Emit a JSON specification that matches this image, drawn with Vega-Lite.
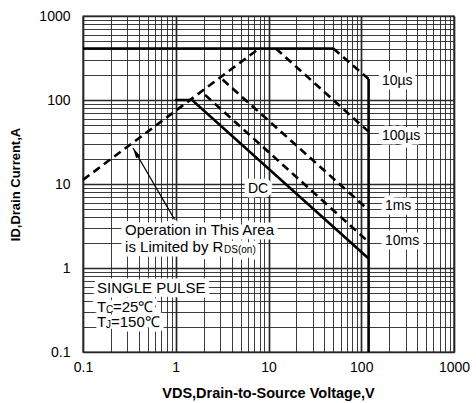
{
  "$schema": "https://vega.github.io/schema/vega-lite/v6.json",
  "autosize": {"type": "none"},
  "padding": {"left": 83, "top": 16, "right": 22, "bottom": 51},
  "width": 371,
  "height": 336,
  "background": "white",
  "config": {
    "view": {"stroke": "#222", "strokeWidth": 1.4},
    "font": "Liberation Sans",
    "text": {"font": "Liberation Sans", "color": "#000"}
  },
  "datasets": {
    "lines": [
      {"s": "top", "v": 0.1, "i": 410},
      {"s": "top", "v": 50, "i": 410},
      {"s": "t10us", "v": 50, "i": 410},
      {"s": "t10us", "v": 120, "i": 178},
      {"s": "vmax", "v": 120, "i": 178},
      {"s": "vmax", "v": 120, "i": 0.1},
      {"s": "rds", "v": 0.1, "i": 11.2},
      {"s": "rds", "v": 7.9, "i": 410},
      {"s": "t100us", "v": 12, "i": 410},
      {"s": "t100us", "v": 120, "i": 42},
      {"s": "t1ms", "v": 3.2, "i": 175},
      {"s": "t1ms", "v": 120, "i": 4.9},
      {"s": "t10ms", "v": 2.07, "i": 115},
      {"s": "t10ms", "v": 120, "i": 2.04},
      {"s": "dc", "v": 0.98, "i": 100},
      {"s": "dc", "v": 1.5, "i": 100},
      {"s": "dc", "v": 120, "i": 1.3}
    ],
    "arrow": [
      {"part": "tail", "v": 0.98, "i": 3.72},
      {"part": "tip", "v": 0.346, "i": 26.8}
    ],
    "texts": [
      {"t": "10µs", "v": 167, "i": 168},
      {"t": "100µs", "v": 167, "i": 37.3},
      {"t": "1ms", "v": 180, "i": 5.5},
      {"t": "10ms", "v": 180, "i": 2.09},
      {"t": "DC", "v": 6.0, "i": 8.7},
      {"t": "Operation in This Area", "v": 0.284, "i": 2.83},
      {"t": "is Limited by R", "v": 0.284, "i": 1.78},
      {"t": "DS(on)", "v": 0.284, "i": 1.78},
      {"t": "SINGLE PULSE", "v": 0.1416, "i": 0.578},
      {"t": "T", "v": 0.1416, "i": 0.343},
      {"t": "C", "v": 0.1416, "i": 0.343},
      {"t": "=25℃", "v": 0.1416, "i": 0.343},
      {"t": "T", "v": 0.1416, "i": 0.227},
      {"t": "J", "v": 0.1416, "i": 0.227},
      {"t": "=150℃", "v": 0.1416, "i": 0.227}
    ]
  },
  "encoding": {
    "x": {
      "field": "v", "type": "quantitative",
      "scale": {"type": "log", "domain": [0.1, 1000], "nice": false},
      "axis": {
        "values": [0.1,0.2,0.3,0.4,0.5,0.6,0.7,0.8,0.9,1,2,3,4,5,6,7,8,9,10,20,30,40,50,60,70,80,90,100,200,300,400,500,600,700,800,900,1000],
        "grid": true, "ticks": false, "domain": false,
        "format": "~g",
        "labelExpr": "indexof([0.1,1,10,100,1000], datum.value) >= 0 ? datum.label : ''",
        "labelOverlap": false, "labelFontSize": 14, "labelFont": "Liberation Sans", "labelColor": "#000", "labelPadding": 8,
        "labelFlush": false,
        "gridColor": "#262626",
        "gridWidth": {"condition": {"test": "indexof([0.1,1,10,100,1000], datum.value) >= 0", "value": 1.7}, "value": 0.9},
        "title": "VDS,Drain-to-Source Voltage,V",
        "titleFont": "Liberation Sans", "titleFontSize": 14.5, "titleFontWeight": "bold", "titleColor": "#000",
        "titleX": 185, "titleY": 41, "titleBaseline": "middle", "titleAlign": "center"
      }
    },
    "y": {
      "field": "i", "type": "quantitative",
      "scale": {"type": "log", "domain": [0.1, 1000], "nice": false},
      "axis": {
        "values": [0.1,0.2,0.3,0.4,0.5,0.6,0.7,0.8,0.9,1,2,3,4,5,6,7,8,9,10,20,30,40,50,60,70,80,90,100,200,300,400,500,600,700,800,900,1000],
        "grid": true, "ticks": false, "domain": false,
        "format": "~g",
        "labelExpr": "indexof([0.1,1,10,100,1000], datum.value) >= 0 ? datum.label : ''",
        "labelOverlap": false, "labelFontSize": 14, "labelFont": "Liberation Sans", "labelColor": "#000", "labelPadding": 13,
        "labelFlush": false,
        "gridColor": "#262626",
        "gridWidth": {"condition": {"test": "indexof([0.1,1,10,100,1000], datum.value) >= 0", "value": 1.7}, "value": 0.9},
        "title": "ID,Drain Current,A",
        "titleFont": "Liberation Sans", "titleFontSize": 13, "titleFontWeight": "bold", "titleColor": "#000",
        "titleX": -68, "titleY": 168, "titleBaseline": "middle", "titleAlign": "center", "titleAngle": -90
      }
    }
  },
  "layer": [
    {
      "data": {"name": "lines"},
      "transform": [{"filter": {"field": "s", "oneOf": ["top", "vmax", "dc"]}}],
      "mark": {"type": "line", "color": "#000", "strokeWidth": 2.6},
      "encoding": {"detail": {"field": "s"}}
    },
    {
      "data": {"name": "lines"},
      "transform": [{"filter": {"field": "s", "oneOf": ["t10us", "rds", "t100us", "t1ms", "t10ms"]}}],
      "mark": {"type": "line", "color": "#000", "strokeWidth": 2.6, "strokeDash": [8, 5]},
      "encoding": {"detail": {"field": "s"}}
    },
    {
      "data": {"name": "arrow"},
      "mark": {"type": "line", "color": "#000", "strokeWidth": 1.2},
      "encoding": {}
    },
    {
      "data": {"name": "arrow"},
      "transform": [{"filter": "datum.part == 'tip'"}],
      "mark": {"type": "point", "shape": "M0,0L0.5,2.2L-0.5,2.2Z", "filled": true, "color": "#000", "opacity": 1, "size": 90, "angle": 330},
      "encoding": {}
    },
    {
      "data": {"name": "texts"},
      "transform": [{"filter": {"field": "t", "oneOf": ["10µs", "100µs", "1ms", "10ms", "DC"]}}],
      "mark": {"type": "text", "align": "left", "baseline": "middle", "fontSize": 14, "fill": "white", "stroke": "white", "strokeWidth": 9, "strokeJoin": "round"},
      "encoding": {"text": {"field": "t"}}
    },
    {
      "data": {"name": "texts"},
      "transform": [{"filter": {"field": "t", "oneOf": ["Operation in This Area", "is Limited by R", "SINGLE PULSE", "T"]}}],
      "mark": {"type": "text", "align": "left", "baseline": "middle", "fontSize": 15, "fill": "white", "stroke": "white", "strokeWidth": 9, "strokeJoin": "round"},
      "encoding": {"text": {"field": "t"}}
    },
    {
      "data": {"name": "texts"},
      "transform": [{"filter": {"field": "t", "oneOf": ["DS(on)"]}}],
      "mark": {"type": "text", "align": "left", "baseline": "middle", "fontSize": 10, "dx": 99, "dy": 3, "fill": "white", "stroke": "white", "strokeWidth": 9, "strokeJoin": "round"},
      "encoding": {"text": {"field": "t"}}
    },
    {
      "data": {"name": "texts"},
      "transform": [{"filter": {"field": "t", "oneOf": ["=25℃"]}}],
      "mark": {"type": "text", "align": "left", "baseline": "middle", "fontSize": 15, "dx": 16, "fill": "white", "stroke": "white", "strokeWidth": 9, "strokeJoin": "round"},
      "encoding": {"text": {"field": "t"}}
    },
    {
      "data": {"name": "texts"},
      "transform": [{"filter": {"field": "t", "oneOf": ["=150℃"]}}],
      "mark": {"type": "text", "align": "left", "baseline": "middle", "fontSize": 15, "dx": 14, "fill": "white", "stroke": "white", "strokeWidth": 9, "strokeJoin": "round"},
      "encoding": {"text": {"field": "t"}}
    },
    {
      "data": {"name": "texts"},
      "transform": [{"filter": {"field": "t", "oneOf": ["10µs", "100µs", "1ms", "10ms", "DC"]}}],
      "mark": {"type": "text", "align": "left", "baseline": "middle", "fontSize": 14, "fill": "#000"},
      "encoding": {"text": {"field": "t"}}
    },
    {
      "data": {"name": "texts"},
      "transform": [{"filter": {"field": "t", "oneOf": ["Operation in This Area", "is Limited by R", "SINGLE PULSE", "T"]}}],
      "mark": {"type": "text", "align": "left", "baseline": "middle", "fontSize": 15, "fill": "#000"},
      "encoding": {"text": {"field": "t"}}
    },
    {
      "data": {"name": "texts"},
      "transform": [{"filter": {"field": "t", "oneOf": ["DS(on)"]}}],
      "mark": {"type": "text", "align": "left", "baseline": "middle", "fontSize": 10, "dx": 99, "dy": 3, "fill": "#000"},
      "encoding": {"text": {"field": "t"}}
    },
    {
      "data": {"name": "texts"},
      "transform": [{"filter": {"field": "t", "oneOf": ["C", "J"]}}],
      "mark": {"type": "text", "align": "left", "baseline": "middle", "fontSize": 10, "dx": 9, "dy": 3, "fill": "#000"},
      "encoding": {"text": {"field": "t"}}
    },
    {
      "data": {"name": "texts"},
      "transform": [{"filter": {"field": "t", "oneOf": ["=25℃"]}}],
      "mark": {"type": "text", "align": "left", "baseline": "middle", "fontSize": 15, "dx": 16, "fill": "#000"},
      "encoding": {"text": {"field": "t"}}
    },
    {
      "data": {"name": "texts"},
      "transform": [{"filter": {"field": "t", "oneOf": ["=150℃"]}}],
      "mark": {"type": "text", "align": "left", "baseline": "middle", "fontSize": 15, "dx": 14, "fill": "#000"},
      "encoding": {"text": {"field": "t"}}
    }
  ]
}
